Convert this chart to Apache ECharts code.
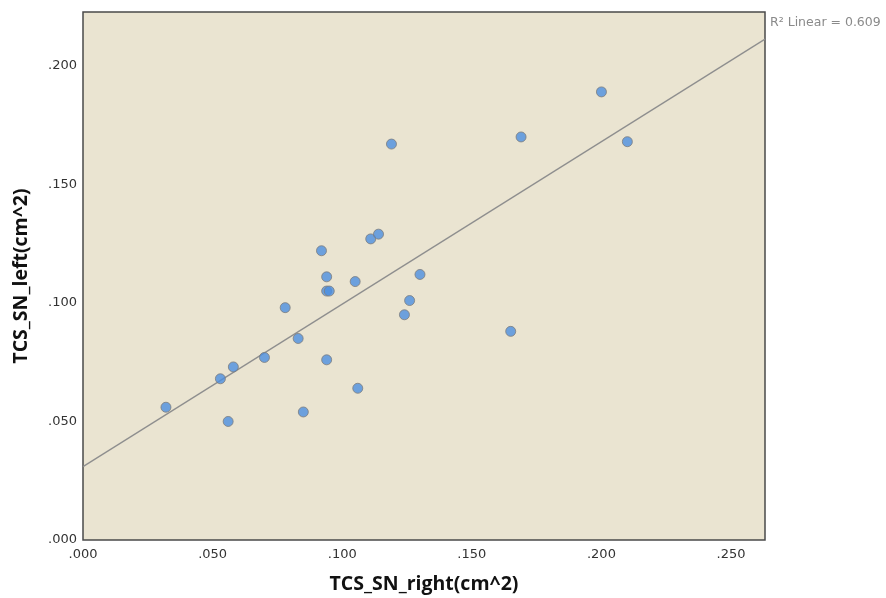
<!DOCTYPE html>
<html>
<head>
<meta charset="utf-8">
<script src="https://cdn.jsdelivr.net/npm/echarts@6/dist/echarts.min.js"></script>
<style>
  html, body { margin: 0; padding: 0; background: #fff; }
  #chart { width: 886px; height: 598px; }
</style>
</head>
<body>
<div id="chart"></div>
<script>
// TCS_SN right vs left
var rightVals = [0.032, 0.053, 0.058, 0.056, 0.070, 0.078, 0.083, 0.085, 0.092, 0.094,
                 0.094, 0.095, 0.094, 0.105, 0.106, 0.111, 0.114, 0.119, 0.124, 0.126,
                 0.130, 0.165, 0.169, 0.200, 0.210];
var leftVals  = [0.056, 0.068, 0.073, 0.050, 0.077, 0.098, 0.085, 0.054, 0.122, 0.111,
                 0.105, 0.105, 0.076, 0.109, 0.064, 0.127, 0.129, 0.167, 0.095, 0.101,
                 0.112, 0.088, 0.170, 0.189, 0.168];
var xTicks = [0, 0.05, 0.10, 0.15, 0.20, 0.25];
var yTicks = [0, 0.05, 0.10, 0.15, 0.20];
var rSquaredText = 'R\u00b2 Linear = 0.609';

var xMax = 0.2631, yMax = 0.2227;

// least squares fit line
function fitLine(xs, ys) {
  var n = xs.length, mx = 0, my = 0;
  for (var i = 0; i < n; i++) { mx += xs[i]; my += ys[i]; }
  mx /= n; my /= n;
  var sxy = 0, sxx = 0;
  for (var j = 0; j < n; j++) {
    sxy += (xs[j] - mx) * (ys[j] - my);
    sxx += (xs[j] - mx) * (xs[j] - mx);
  }
  var b = sxy / sxx;
  return { a: my - b * mx, b: b };
}
var fit = fitLine(rightVals, leftVals);
var fitData = [[0, fit.a], [xMax, fit.a + fit.b * xMax]];

var points = rightVals.map(function (v, i) { return [v, leftVals[i]]; });

function fmt(v) { return v.toFixed(3).replace(/^0/, ''); }

var myChart = echarts.init(document.getElementById('chart'));
myChart.setOption({
  animation: false,
  backgroundColor: '#ffffff',
  textStyle: { fontFamily: 'DejaVu Sans' },
  grid: {
    left: 83, top: 12, right: 121, bottom: 58,
    outerBoundsMode: 'none',
    containLabel: false,
    show: true,
    backgroundColor: '#EAE4D1',
    borderColor: '#4a4a4a',
    borderWidth: 1.5
  },
  graphic: [{
    type: 'text',
    left: 770, top: 16,
    style: { text: rSquaredText, fill: '#8a8a8a', font: '12.5px "DejaVu Sans"' }
  }],
  xAxis: {
    type: 'value',
    min: 0, max: xMax,
    interval: 0.05,
    name: 'TCS_SN_right(cm^2)',
    nameLocation: 'middle',
    nameGap: 34,
    nameTextStyle: { fontSize: 19.5, fontWeight: 'bold', color: '#111', fontFamily: 'Open Sans' },
    axisLine: { show: false },
    axisTick: { show: false },
    splitLine: { show: false },
    axisLabel: {
      color: '#333', fontSize: 13, margin: 8,
      showMaxLabel: false,
      formatter: function (v) { return xTicks.indexOf(+v.toFixed(3)) >= 0 ? fmt(v) : ''; }
    }
  },
  yAxis: {
    type: 'value',
    min: 0, max: yMax,
    interval: 0.05,
    name: 'TCS_SN_left(cm^2)',
    nameLocation: 'middle',
    nameGap: 52,
    nameTextStyle: { fontSize: 19.5, fontWeight: 'bold', color: '#111', fontFamily: 'Open Sans' },
    axisLine: { show: false },
    axisTick: { show: false },
    splitLine: { show: false },
    axisLabel: {
      color: '#333', fontSize: 13, margin: 6,
      showMaxLabel: false,
      formatter: function (v) { return yTicks.indexOf(+v.toFixed(3)) >= 0 ? fmt(v) : ''; }
    }
  },
  series: [
    {
      type: 'line',
      data: fitData,
      symbol: 'none',
      lineStyle: { color: '#8e8e8e', width: 1.3 },
      silent: true,
      z: 2
    },
    {
      type: 'scatter',
      data: points,
      symbolSize: 10,
      itemStyle: { color: '#4C8FE0', borderColor: '#7d7d7d', borderWidth: 1 },
      z: 3
    }
  ]
});
</script>
</body>
</html>
